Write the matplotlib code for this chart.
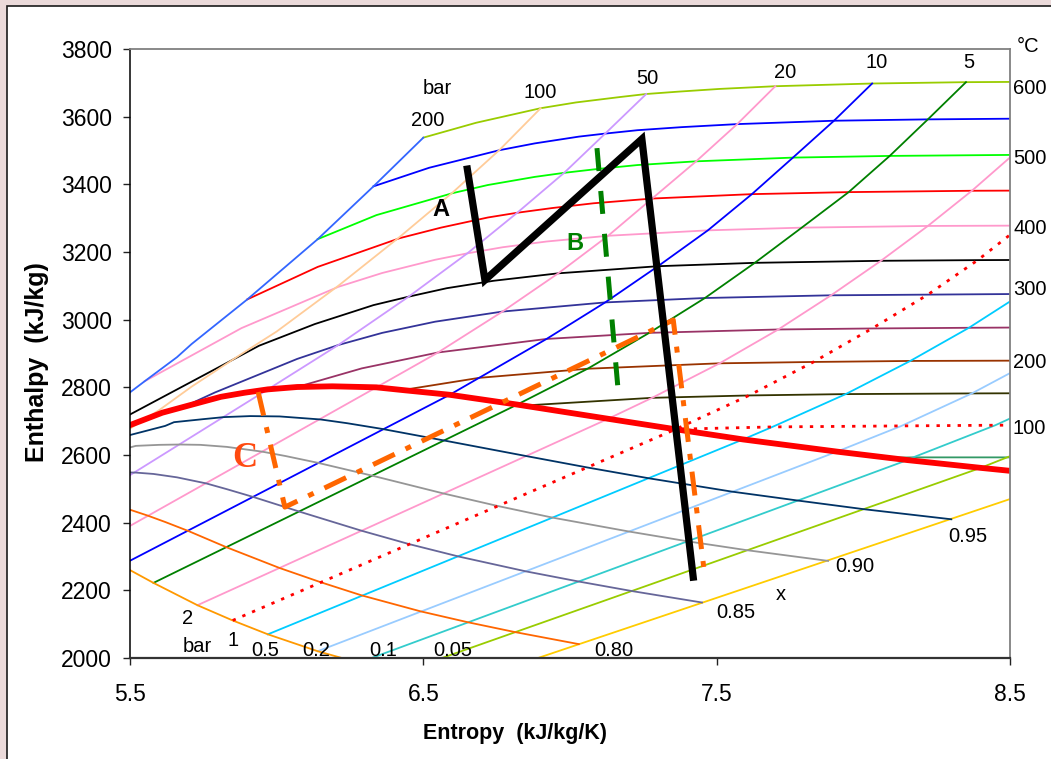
import matplotlib
matplotlib.use('Agg')
import matplotlib.pyplot as plt
from matplotlib.patches import Rectangle

plt.rcParams['font.family'] = ['Liberation Sans', 'DejaVu Sans']

# ---------------- data (entropy s in kJ/kg/K, enthalpy h in kJ/kg) ----------------
# saturated vapour line (x = 1)
SAT_S = [5.31, 5.49, 5.61, 5.75, 5.81, 5.89, 5.97, 6.07, 6.19, 6.34, 6.44, 6.59, 6.82, 7.13, 7.36, 7.59, 7.91, 8.15, 8.40, 8.72]
SAT_H = [2610, 2685, 2725, 2758, 2772, 2784, 2794, 2801, 2803, 2800, 2791, 2778, 2749, 2707, 2676, 2646, 2610, 2585, 2562, 2534]

# lines of constant quality x
X95_S = [5.50, 5.62, 5.65, 5.75, 5.82, 5.91, 6.01, 6.15, 6.24, 6.36, 6.57, 6.85, 7.06, 7.27, 7.55, 7.78, 8.00, 8.30]
X95_H = [2659, 2686, 2697, 2706, 2712, 2715, 2714, 2705, 2694, 2677, 2643, 2597, 2563, 2531, 2492, 2465, 2440, 2410]
X90_S = [5.49, 5.52, 5.60, 5.67, 5.74, 5.83, 5.95, 6.03, 6.14, 6.33, 6.57, 6.75, 6.94, 7.20, 7.40, 7.60, 7.88]
X90_H = [2620, 2627, 2630, 2631, 2630, 2624, 2610, 2597, 2577, 2538, 2486, 2450, 2415, 2374, 2345, 2319, 2287]
X85_S = [5.46, 5.52, 5.58, 5.66, 5.76, 5.83, 5.92, 6.08, 6.29, 6.45, 6.62, 6.85, 7.03, 7.21, 7.45]
X85_H = [2549, 2548, 2544, 2534, 2516, 2499, 2476, 2432, 2376, 2337, 2300, 2256, 2226, 2198, 2164]
X80_S = [5.48, 5.56, 5.62, 5.70, 5.83, 6.01, 6.15, 6.29, 6.49, 6.65, 6.81, 7.03]
X80_H = [2444, 2421, 2402, 2375, 2327, 2266, 2224, 2185, 2138, 2106, 2077, 2041]
X75_S = [5.47, 5.58, 5.73, 5.85, 5.97, 6.14, 6.28]
X75_H = [2274, 2222, 2156, 2111, 2070, 2020, 1986]

# isobars (bar)
P200_S = [4.93, 5.55, 5.66, 5.71, 5.90, 6.14, 6.33, 6.50]
P200_H = [2410, 2818, 2889, 2928, 3060, 3238, 3394, 3538]
P100_S = [5.50, 5.60, 5.71, 5.87, 6.00, 6.21, 6.42, 6.60, 6.76, 6.90]
P100_H = [2678, 2733, 2802, 2893, 2965, 3100, 3245, 3376, 3502, 3625]
P50_S = [5.21, 5.97, 6.21, 6.45, 6.65, 6.82, 6.98, 7.12, 7.26]
P50_H = [2384, 2794, 2925, 3068, 3196, 3316, 3434, 3550, 3667]
P20_S = [5.37, 6.34, 6.55, 6.77, 6.96, 7.13, 7.28, 7.43, 7.57, 7.70]
P20_H = [2327, 2800, 2903, 3024, 3137, 3248, 3358, 3468, 3578, 3690]
P10_S = [5.47, 6.59, 6.69, 6.92, 7.12, 7.30, 7.47, 7.62, 7.76, 7.90, 8.03]
P10_H = [2274, 2778, 2828, 2943, 3051, 3158, 3264, 3371, 3479, 3588, 3698]
P5_S = [5.58, 6.82, 7.06, 7.27, 7.46, 7.63, 7.79, 7.95, 8.09, 8.22, 8.35]
P5_H = [2222, 2749, 2855, 2961, 3064, 3168, 3272, 3377, 3484, 3592, 3702]
P2_S = [5.73, 7.13, 7.28, 7.51, 7.71, 7.89, 8.06, 8.22, 8.37, 8.51]
P2_H = [2156, 2707, 2769, 2871, 2971, 3072, 3174, 3277, 3381, 3487]
P1_S = [5.85, 7.36, 7.61, 7.83, 8.03, 8.22, 8.39, 8.54]
P1_H = [2111, 2676, 2776, 2875, 2974, 3074, 3176, 3278]
P05_S = [5.97, 7.59, 7.69, 7.94, 8.16, 8.36, 8.54]
P05_H = [2070, 2646, 2683, 2780, 2878, 2976, 3076]
P02_S = [6.14, 7.91, 8.13, 8.37, 8.58]
P02_H = [2020, 2610, 2686, 2782, 2879]
P01_S = [6.28, 8.15, 8.17, 8.45, 8.69]
P01_H = [1986, 2585, 2593, 2688, 2783]
P005_S = [6.42, 8.40, 8.49, 8.77]
P005_H = [1956, 2562, 2593, 2688]
P002_S = [6.61, 8.72]
P002_H = [1918, 2534]

# isotherms (deg C)
T600_S = [6.50, 6.68, 6.90, 7.02, 7.17, 7.26, 7.37, 7.51, 7.70, 8.03, 8.35, 8.78]
T600_H = [3538, 3582, 3625, 3642, 3658, 3667, 3674, 3682, 3690, 3698, 3702, 3704]
T550_S = [6.33, 6.52, 6.76, 6.88, 7.03, 7.12, 7.23, 7.38, 7.57, 7.90, 8.22, 8.65]
T550_H = [3394, 3449, 3501, 3521, 3541, 3550, 3560, 3569, 3578, 3588, 3592, 3595]
T500_S = [6.14, 6.34, 6.60, 6.72, 6.88, 6.98, 7.09, 7.23, 7.43, 7.76, 8.09, 8.51]
T500_H = [3238, 3309, 3374, 3398, 3422, 3434, 3445, 3457, 3468, 3479, 3484, 3487]
T450_S = [5.90, 6.14, 6.42, 6.56, 6.72, 6.82, 6.94, 7.08, 7.28, 7.62, 7.95, 8.37, 8.70]
T450_H = [3060, 3156, 3241, 3272, 3302, 3316, 3330, 3344, 3358, 3371, 3377, 3381, 3382]
T400_S = [5.55, 5.88, 6.21, 6.36, 6.54, 6.65, 6.77, 6.92, 7.13, 7.47, 7.79, 8.22, 8.54]
T400_H = [2818, 2975, 3097, 3138, 3177, 3196, 3214, 3231, 3248, 3264, 3272, 3277, 3278]
T350_S = [5.44, 5.94, 6.13, 6.33, 6.45, 6.58, 6.74, 6.96, 7.30, 7.63, 8.06, 8.39, 8.71]
T350_H = [2692, 2923, 2987, 3043, 3068, 3093, 3115, 3137, 3158, 3168, 3174, 3176, 3177]
T300_S = [5.70, 5.79, 6.07, 6.21, 6.36, 6.54, 6.77, 7.12, 7.46, 7.89, 8.22, 8.54]
T300_H = [2749, 2785, 2884, 2925, 2961, 2994, 3024, 3051, 3064, 3072, 3074, 3076]
T250_S = [6.07, 6.29, 6.55, 6.92, 7.27, 7.71, 8.03, 8.36, 8.78]
T250_H = [2801, 2856, 2903, 2943, 2961, 2971, 2974, 2976, 2978]
T200_S = [6.43, 6.69, 7.06, 7.51, 7.83, 8.16, 8.58]
T200_H = [2792, 2828, 2855, 2871, 2875, 2878, 2879]
T150_S = [6.84, 7.28, 7.61, 7.94, 8.37, 8.69]
T150_H = [2746, 2769, 2776, 2780, 2782, 2783]
T100_S = [7.35, 7.69, 8.13, 8.45, 8.77]
T100_H = [2676, 2683, 2686, 2688, 2689]
T50_S = [8.08, 8.17, 8.49, 8.80]
T50_H = [2592, 2593, 2593, 2594]

# process paths A, B, C
A_S = [6.65, 6.71, 7.245, 7.42]
A_H = [3445, 3117, 3534, 2239]
B_S = [7.092, 7.164]
B_H = [3507, 2792]
C_S = [5.937, 6.028, 7.352, 7.46]
C_H = [2786, 2446, 2999, 2240]

X_TICKS = [5.5, 6.5, 7.5, 8.5]
Y_TICKS = [2000, 2200, 2400, 2600, 2800, 3000, 3200, 3400, 3600, 3800]

# ---------------- figure ----------------
W, H = 1051, 759
fig = plt.figure(figsize=(W / 100, H / 100), dpi=100, facecolor='#EBDADA')
fig.add_artist(Rectangle((7 / W, -0.05), 1.1, 1.05 - 6 / H, transform=fig.transFigure,
                         facecolor='white', edgecolor='#1a1a1a', lw=1.2, zorder=-5))
ax = fig.add_axes([130 / W, 1 - 658 / H, 880 / W, 609 / H])
ax.set_facecolor('white')

thin = 1.3
thin_lines = [
    # isotherms
    (T600_S, T600_H, '#99CC00'), (T550_S, T550_H, '#0000FF'),
    (T500_S, T500_H, '#00FF00'), (T450_S, T450_H, '#FF0000'),
    (T400_S, T400_H, '#FF99CC'), (T350_S, T350_H, '#000000'),
    (T300_S, T300_H, '#333399'), (T250_S, T250_H, '#993366'),
    (T200_S, T200_H, '#993300'), (T150_S, T150_H, '#333300'),
    (T50_S, T50_H, '#339966'),
    # isobars
    (P200_S, P200_H, '#3366FF'), (P100_S, P100_H, '#FFCC99'),
    (P50_S, P50_H, '#CC99FF'), (P20_S, P20_H, '#FF99CC'),
    (P10_S, P10_H, '#0000FF'), (P5_S, P5_H, '#008000'),
    (P2_S, P2_H, '#FF99CC'), (P05_S, P05_H, '#00CCFF'),
    (P02_S, P02_H, '#99CCFF'), (P01_S, P01_H, '#33CCCC'),
    (P005_S, P005_H, '#99CC00'), (P002_S, P002_H, '#FFCC00'),
    # quality lines
    (X75_S, X75_H, '#FF9900'), (X80_S, X80_H, '#FF6600'),
    (X85_S, X85_H, '#666699'), (X90_S, X90_H, '#969696'),
    (X95_S, X95_H, '#003366'),
]
for s, h, c in thin_lines:
    ax.plot(s, h, color=c, lw=thin, zorder=2)

dotted = (0, (1.2, 2.6))
ax.plot(P1_S, P1_H, color='#FF0000', lw=2.0, ls=dotted, zorder=2)
ax.plot(T100_S, T100_H, color='#FF0000', lw=2.0, ls=dotted, zorder=2)

ax.plot(SAT_S, SAT_H, color='#FF0000', lw=4.2, zorder=3, solid_capstyle='butt')

ax.plot(C_S, C_H, color='#FF6600', lw=3.6, ls=(0, (4.8, 2.4, 1.2, 2.4)), zorder=4)
ax.plot(B_S, B_H, color='#008000', lw=3.6, ls=(0, (4.6, 4.0)), zorder=4)
ax.plot(A_S, A_H, color='#000000', lw=5.2, zorder=5, solid_joinstyle='miter')

ax.set_xlim(5.5, 8.5)
ax.set_ylim(2000, 3800)
ax.set_xticks(X_TICKS)
ax.set_xticklabels([f'{v:.1f}' for v in X_TICKS])
ax.set_yticks(Y_TICKS)
ax.set_yticklabels([str(v) for v in Y_TICKS])
ax.tick_params(axis='y', direction='out', length=5, width=1.0, pad=8, labelsize=16.5, color='#222222')
ax.tick_params(axis='x', direction='out', length=5, width=1.0, pad=13, labelsize=16.5, color='#222222')
ax.spines['top'].set_color('#808080')
ax.spines['right'].set_color('#808080')
ax.spines['top'].set_linewidth(1.3)
ax.spines['right'].set_linewidth(1.3)
ax.spines['left'].set_color('#000000')
ax.spines['left'].set_linewidth(1.1)
ax.spines['bottom'].set_color('#333333')
ax.spines['bottom'].set_linewidth(1.6)
for sp in ax.spines.values():
    sp.set_zorder(6)


def ptext(px, py, txt, size=14.5, **kw):
    fig.text(px / W, 1 - py / H, txt, fontsize=size, ha='center', va='center', **kw)


# isobar labels (top)
ptext(437, 88, 'bar')
ptext(428, 120, '200')
ptext(540, 93, '100')
ptext(647, 78, '50')
ptext(785, 72, '20')
ptext(877, 63, '10')
ptext(969, 63, '5')
# isobar labels (bottom)
ptext(188, 618, '2')
ptext(197, 646, 'bar')
ptext(233, 641, '1')
ptext(265, 651, '0.5')
ptext(316, 651, '0.2')
ptext(383, 651, '0.1')
ptext(453, 650, '0.05')
# quality labels
ptext(614, 650, '0.80')
ptext(736, 613, '0.85')
ptext(781, 595, 'x')
ptext(855, 567, '0.90')
ptext(968, 537, '0.95')
# temperature labels (right)
fig.text(1017 / W, 1 - 47 / H, '°C', fontsize=14.5, ha='left', va='center')
for py, t in [(88, '600'), (158, '500'), (229, '400'), (290, '300'), (362, '200'), (428, '100')]:
    fig.text(1013 / W, 1 - py / H, t, fontsize=14.5, ha='left', va='center')

# path labels
ptext(441, 209, 'A', size=17, fontweight='bold', color='#000000')
ptext(575, 243, 'B', size=17, fontweight='bold', color='#008000')
ptext(245, 459, 'C', size=25, fontweight='bold', color='#FF4A10',
      family=['Liberation Serif', 'DejaVu Serif'])

# axis titles
fig.text(37 / W, 1 - 362 / H, 'Enthalpy  (kJ/kg)', fontsize=18, fontweight='bold',
         rotation=90, ha='center', va='center')
fig.text(515 / W, 1 - 734 / H, 'Entropy  (kJ/kg/K)', fontsize=15.5, fontweight='bold',
         ha='center', va='center')

fig.savefig('out.png', dpi=100, facecolor=fig.get_facecolor())
